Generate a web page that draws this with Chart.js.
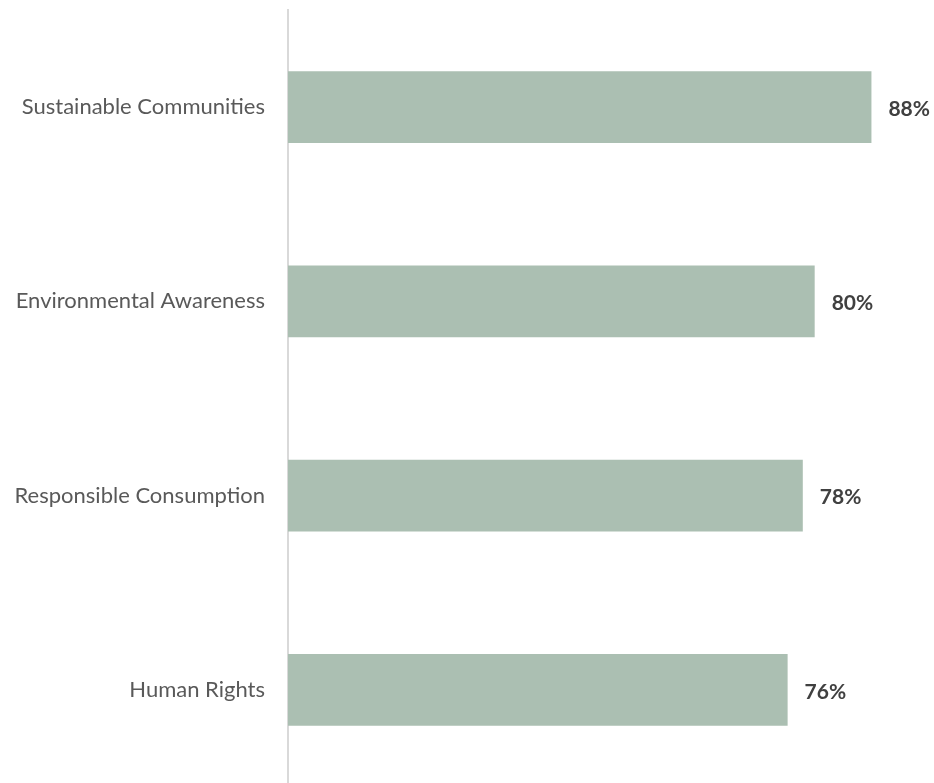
<!DOCTYPE html>
<html>
<head>
<meta charset="utf-8">
<script src="https://cdn.jsdelivr.net/npm/chart.js@4"></script>
<style>
    html, body { margin: 0; padding: 0; background: #fff; overflow: hidden; }
    .chart-box { width: 934px; height: 787px; }
</style>
</head>
<body>
<div class="chart-box"><canvas id="topicsChart"></canvas></div>
<script>
// Chart data
const categories = ['Sustainable Communities', 'Environmental Awareness', 'Responsible Consumption', 'Human Rights'];
const shares = [88.4, 79.8, 78.0, 75.7];

// Draws the percentage label just past the end of each bar
const barValueLabels = {
    id: 'barValueLabels',
    afterDatasetsDraw(chart) {
        const ctx = chart.ctx;
        const meta = chart.getDatasetMeta(0);
        ctx.save();
        ctx.font = 'bold 21px Lato';
        ctx.fillStyle = '#404040';
        ctx.textAlign = 'left';
        ctx.textBaseline = 'middle';
        meta.data.forEach(function(bar, i) {
            ctx.fillText(Math.round(shares[i]) + '%', bar.x + 17, bar.y + 2);
        });
        ctx.restore();
    }
};

const topicsCtx = document.getElementById('topicsChart');
new Chart(topicsCtx, {
    type: 'bar',
    data: {
        labels: categories,
        datasets: [{
            data: shares,
            backgroundColor: '#abbfb2',
            borderWidth: 0,
            categoryPercentage: 1,
            barPercentage: 0.37
        }]
    },
    options: {
        indexAxis: 'y',
        responsive: true,
        maintainAspectRatio: false,
        animation: false,
        layout: {
            padding: { top: 10, right: 19, bottom: 0, left: 0 }
        },
        plugins: {
            legend: { display: false },
            tooltip: { enabled: false }
        },
        scales: {
            x: {
                display: false,
                min: 0,
                max: 95
            },
            y: {
                grid: { display: false, drawTicks: false },
                border: { display: true, color: '#d9d9d9', width: 2 },
                ticks: {
                    color: '#595959',
                    padding: 23,
                    font: { family: 'Lato', size: 22 }
                },
                afterFit: function(scale) {
                    scale.width = 288;
                    scale.paddingTop = 0;
                    scale.paddingBottom = 0;
                }
            }
        }
    },
    plugins: [barValueLabels]
});
</script>
</body>
</html>
